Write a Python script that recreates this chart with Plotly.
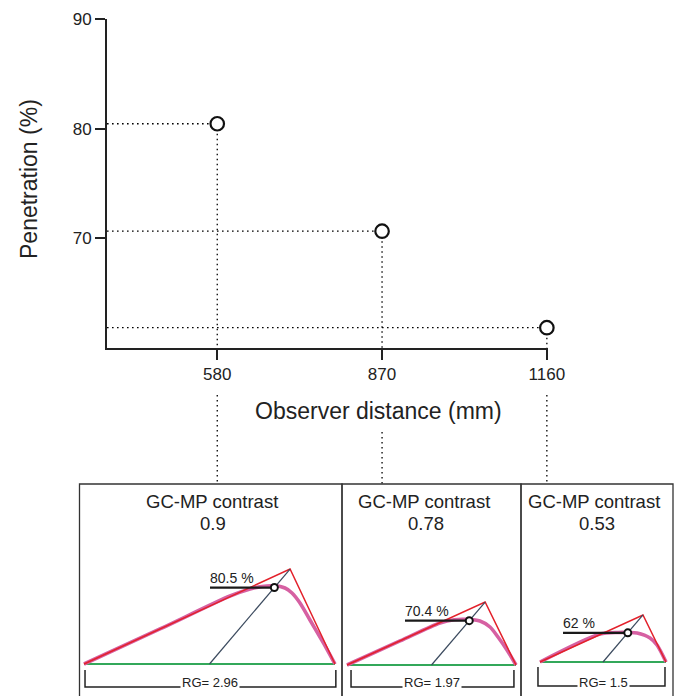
import plotly.graph_objects as go

# ---------------- data ----------------
distance_mm = [580, 870, 1160]
penetration_plot = [80.45, 70.65, 61.85]          # positions
penetration_frac = [0.805, 0.704, 0.62]            # 80.5 %, 70.4 %, 62 %
penetration_label = ["80.5 %", "70.4 %", "62 %"]
contrast_label = ["0.9", "0.78", "0.53"]
rg_value = [2.96, 1.97, 1.5]
rg_label = ["RG= 2.96", "RG= 1.97", "RG= 1.5"]
x_ticks = [580, 870, 1160]
y_ticks = [70, 80, 90]

# triangle geometry per panel (x in RG units from left base, height in same units)
apex_x = [2.43, 1.61, 1.226]
apex_h = [1.12, 0.734, 0.56]
foot_x = [1.48, 0.985, 0.75]
lead_start_x = [1.486, 0.676, 0.274]

# smoothed (pink) profiles
profile_x = [
    [0.0, 0.896, 1.722, 1.958, 2.099, 2.24, 2.37, 2.453, 2.547, 2.665, 2.783, 2.877, 2.96],
    [0.0, 0.618, 1.084, 1.25, 1.40, 1.55, 1.667, 1.76, 1.865, 1.97],
    [0.0, 0.714, 0.93, 1.05, 1.155, 1.31, 1.393, 1.5],
]
profile_h = [
    [0.0, 0.413, 0.802, 0.884, 0.915, 0.922, 0.896, 0.837, 0.719, 0.519, 0.318, 0.153, 0.0],
    [0.0, 0.28, 0.49, 0.528, 0.532, 0.513, 0.443, 0.326, 0.175, 0.0],
    [0.0, 0.333, 0.352, 0.352, 0.345, 0.286, 0.202, 0.0],
]

# ---------------- layout constants (pixels) ----------------
W, H = 678, 696
FONT = "Liberation Sans, Arial, Helvetica, sans-serif"
TXT = "#222222"
X_RANGE = [386, 1162]
Y_RANGE = [60, 90]
X_DOM_PX = (107, 548)
Y_DOM_PX = (19, 348)  # top, bottom

BOX_TOP = 484
BOX_PX = [(79.5, 342), (342, 521), (521, 673)]
BASE_PX = [(84, 335, 664), (347, 516, 665), (540, 666, 662)]
TITLE_CX = [212, 424, 594]
VALUE_CX = [213, 426, 597]
TITLE_Y, VALUE_Y = 501, 523
BR_X = [(0.012, 2.97), (0.047, 1.946), (-0.024, 1.488)]
BR_TOP = [-0.07, -0.058, -0.06]
BR_BOT = [-0.271, -0.256, -0.286]
CONNECT_TOP = [395, 432, 395]

RED = "#e3212b"
PINK = "#d660a2"
GREEN = "#33a85a"
SLATE = "#3b4a5e"
DOT = "1.6px,3.4px"


def px_x(p):
    return p / W


def px_y(p):
    return 1 - p / H


fig = go.Figure()

# ---------------- top chart ----------------
for xv, yv in zip(distance_mm, penetration_plot):
    fig.add_trace(go.Scatter(x=[X_RANGE[0], xv], y=[yv, yv], mode="lines",
                             line=dict(color="black", width=1.3, dash=DOT),
                             hoverinfo="skip", showlegend=False))
    fig.add_trace(go.Scatter(x=[xv, xv], y=[yv, Y_RANGE[0]], mode="lines",
                             line=dict(color="black", width=1.3, dash=DOT),
                             hoverinfo="skip", showlegend=False))
fig.add_trace(go.Scatter(x=distance_mm, y=penetration_plot, mode="markers",
                         marker=dict(size=13.5, color="white",
                                     line=dict(color="#111111", width=2.2)),
                         cliponaxis=False, showlegend=False))

shapes = []
for xv, top in zip(distance_mm, CONNECT_TOP):
    shapes.append(dict(type="line", xref="x", yref="paper", x0=xv, x1=xv,
                       y0=px_y(top), y1=px_y(BOX_TOP),
                       line=dict(color="black", width=1.3, dash=DOT)))

annotations = [
    dict(text="Observer distance (mm)", x=870, xref="x", y=px_y(411), yref="paper",
         showarrow=False, font=dict(family=FONT, size=23, color=TXT),
         xanchor="center", yanchor="middle", xshift=-4),
    dict(text="Penetration (%)", x=px_x(29), xref="paper", y=px_y(179), yref="paper",
         showarrow=False, textangle=-90, font=dict(family=FONT, size=23, color=TXT),
         xanchor="center", yanchor="middle"),
]

layout_axes = dict(
    xaxis=dict(domain=[px_x(X_DOM_PX[0]), px_x(X_DOM_PX[1])], range=X_RANGE,
               tickvals=x_ticks, ticktext=[str(t) for t in x_ticks],
               ticks="outside", ticklen=10, tickwidth=2.2, tickcolor="#222",
               showline=True, linewidth=2, linecolor="#222",
               showgrid=False, zeroline=False, automargin=False,
               tickfont=dict(family=FONT, size=17, color=TXT)),
    yaxis=dict(domain=[px_y(Y_DOM_PX[1]), px_y(Y_DOM_PX[0])], range=Y_RANGE,
               tickvals=y_ticks, ticktext=[str(t) for t in y_ticks],
               ticks="outside", ticklen=10, tickwidth=2.2, tickcolor="#222",
               showline=True, linewidth=2, linecolor="#222",
               showgrid=False, zeroline=False, automargin=False,
               tickfont=dict(family=FONT, size=17, color=TXT)),
)

# ---------------- bottom panels ----------------
for i in range(3):
    n = i + 2
    xa, ya = f"x{n}", f"y{n}"
    L, R, B = BASE_PX[i]
    bl, br = BOX_PX[i]
    rg = rg_value[i]
    s = (R - L) / rg
    layout_axes[f"xaxis{n}"] = dict(domain=[px_x(bl), px_x(br)],
                                    range=[-(L - bl) / s, rg + (br - R) / s],
                                    visible=False, fixedrange=True)
    layout_axes[f"yaxis{n}"] = dict(domain=[0, px_y(BOX_TOP)],
                                    range=[-(H - B) / s, (B - BOX_TOP) / s],
                                    visible=False, fixedrange=True)

    # panel box
    shapes.append(dict(type="path", xref="paper", yref="paper",
                       path=f"M {px_x(bl)},{px_y(H + 5)} L {px_x(bl)},{px_y(BOX_TOP)} "
                            f"L {px_x(br)},{px_y(BOX_TOP)} L {px_x(br)},{px_y(H + 5)}",
                       line=dict(color="#333333", width=1.3)))

    p = penetration_frac[i]
    cx = foot_x[i] + p * (apex_x[i] - foot_x[i])
    ch = p * apex_h[i]

    common = dict(xaxis=xa, yaxis=ya, hoverinfo="skip", showlegend=False)
    fig.add_trace(go.Scatter(x=[0, rg], y=[0, 0], mode="lines",
                             line=dict(color=GREEN, width=2.2), **common))
    fig.add_trace(go.Scatter(x=profile_x[i], y=profile_h[i], mode="lines",
                             line=dict(color=PINK, width=3.6, shape="spline", smoothing=0.8),
                             **common))
    fig.add_trace(go.Scatter(x=[0, apex_x[i], rg], y=[0, apex_h[i], 0], mode="lines",
                             line=dict(color=RED, width=1.5), **common))
    fig.add_trace(go.Scatter(x=[foot_x[i], apex_x[i]], y=[0, apex_h[i]], mode="lines",
                             line=dict(color=SLATE, width=1.2), **common))
    fig.add_trace(go.Scatter(x=[lead_start_x[i], cx], y=[ch, ch], mode="lines",
                             line=dict(color="#1a1a1a", width=2.2), **common))
    fig.add_trace(go.Scatter(x=[cx], y=[ch], mode="markers",
                             marker=dict(size=7, color="white",
                                         line=dict(color="#111111", width=2)),
                             cliponaxis=False, **common))
    x0, x1 = BR_X[i]
    fig.add_trace(go.Scatter(x=[x0, x0, x1, x1], y=[BR_TOP[i], BR_BOT[i], BR_BOT[i], BR_TOP[i]],
                             mode="lines", line=dict(color="#222222", width=1.5), **common))

    annotations += [
        dict(text="GC-MP contrast", x=px_x(TITLE_CX[i]), xref="paper", y=px_y(TITLE_Y),
             yref="paper", showarrow=False, xanchor="center", yanchor="middle",
             font=dict(family=FONT, size=18.5, color=TXT)),
        dict(text=contrast_label[i], x=px_x(VALUE_CX[i]), xref="paper", y=px_y(VALUE_Y),
             yref="paper", showarrow=False, xanchor="center", yanchor="middle",
             font=dict(family=FONT, size=18.5, color=TXT)),
        dict(text=penetration_label[i], x=lead_start_x[i], xref=xa, y=ch, yref=ya,
             showarrow=False, xanchor="left", yanchor="middle", yshift=10, xshift=-2,
             font=dict(family=FONT, size=14, color=TXT)),
        dict(text=rg_label[i], x=rg / 2, xref=xa, y=BR_BOT[i], yref=ya,
             showarrow=False, xanchor="center", yanchor="middle", yshift=4,
             bgcolor="white", borderpad=1,
             font=dict(family=FONT, size=13, color=TXT)),
    ]

fig.update_layout(
    width=W, height=H,
    margin=dict(l=0, r=0, t=0, b=0, autoexpand=False),
    paper_bgcolor="white", plot_bgcolor="white",
    showlegend=False,
    shapes=shapes,
    annotations=annotations,
    **layout_axes,
)

fig.write_html("out.html",
               config={"displayModeBar": False, "staticPlot": True},
               post_script="document.body.style.margin='0';"
                           "document.body.style.overflow='hidden';")
